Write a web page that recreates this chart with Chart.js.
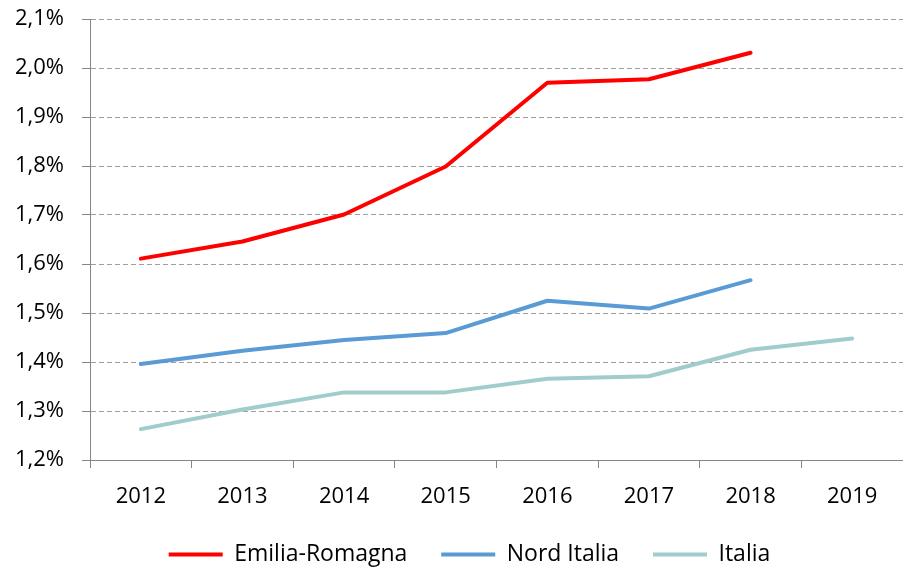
<!DOCTYPE html>
<html>
<head>
<meta charset="utf-8">
<script src="https://cdn.jsdelivr.net/npm/chart.js@4.4.0/dist/chart.umd.min.js"></script>
<style>
  html, body { margin: 0; padding: 0; background: #ffffff; }
  #wrap { width: 903px; height: 570px; position: relative; }
</style>
</head>
<body>
<div id="wrap"><canvas id="c" width="903" height="570"></canvas></div>
<script>
const years = ['2012', '2013', '2014', '2015', '2016', '2017', '2018', '2019'];
const emiliaRomagna = [1.611, 1.646, 1.701, 1.799, 1.970, 1.977, 2.031, null];
const nordItalia = [1.396, 1.423, 1.445, 1.459, 1.525, 1.509, 1.567, null];
const italia = [1.263, 1.303, 1.338, 1.338, 1.366, 1.371, 1.425, 1.448];
const yTicks = { min: 1.2, max: 2.1, step: 0.1 };

const FONT = "'Open Sans', Lato, sans-serif";
const GAP = '\u00A0\u00A0\u00A0\u00A0\u00A0';

const legendShift = {
  id: 'legendShift',
  afterLayout(chart) {
    const l = chart.legend;
    if (l) { l.left += 18; l.right += 18; }
  }
};

new Chart(document.getElementById('c'), {
  type: 'line',
  data: {
    labels: years,
    datasets: [
      { label: 'Emilia-Romagna', data: emiliaRomagna, borderColor: '#FF0000', backgroundColor: '#FF0000' },
      { label: 'Nord Italia', data: nordItalia, borderColor: '#5B9BD5', backgroundColor: '#5B9BD5' },
      { label: 'Italia', data: italia, borderColor: '#A0CDCB', backgroundColor: '#A0CDCB' }
    ].map(d => Object.assign(d, { borderWidth: 4, pointRadius: 0, pointHoverRadius: 0, tension: 0, fill: false, spanGaps: false, borderCapStyle: 'round', borderJoinStyle: 'round' }))
  },
  plugins: [legendShift],
  options: {
    responsive: false,
    animation: false,
    devicePixelRatio: 1,
    layout: { padding: { top: 19, right: 0, left: 0, bottom: -6 } },
    plugins: {
      tooltip: { enabled: false },
      legend: {
        position: 'bottom',
        labels: {
          font: { family: FONT, size: 23 },
          color: '#000000',
          boxWidth: 54,
          boxHeight: 4,
          padding: 4,
          generateLabels(chart) {
            const n = chart.data.datasets.length;
            return chart.data.datasets.map((ds, i) => ({
              text: ds.label + (i < n - 1 ? GAP : ''),
              fillStyle: ds.borderColor,
              strokeStyle: ds.borderColor,
              lineWidth: 0,
              hidden: false,
              datasetIndex: i,
              fontColor: '#000000'
            }));
          }
        }
      }
    },
    scales: {
      x: {
        offset: true,
        grid: { offset: true, drawOnChartArea: false, drawTicks: true, tickLength: 8, color: '#868686', lineWidth: 1 },
        border: { display: true, color: '#868686', width: 1 },
        ticks: { font: { family: FONT, size: 22 }, color: '#000000', padding: 16, maxRotation: 0, autoSkip: false },
        afterFit(scale) { scale.height = 79; scale.paddingLeft = 0; scale.paddingRight = 0; }
      },
      y: {
        min: yTicks.min,
        max: yTicks.max,
        grid: { drawOnChartArea: true, drawTicks: true, tickLength: 8, color: '#A0A0A0', lineWidth: 1, tickColor: '#868686' },
        border: { display: true, color: '#868686', width: 1, dash: [5, 3] },
        ticks: {
          stepSize: yTicks.step,
          font: { family: FONT, size: 22 },
          color: '#000000',
          padding: 18,
          callback: v => v.toFixed(1).replace('.', ',') + '%'
        },
        afterFit(scale) { scale.width = 90; scale.paddingTop = 0; scale.paddingBottom = 0; }
      }
    }
  }
});
</script>
</body>
</html>
